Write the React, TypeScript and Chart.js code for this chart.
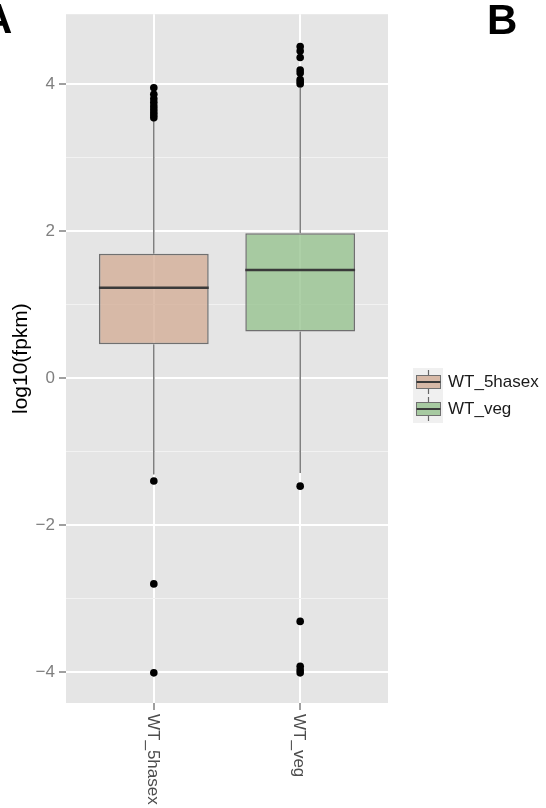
import React, { useEffect, useRef } from 'react';
import { Chart, registerables } from 'chart.js';

Chart.register(...registerables);

// ---- data ----
const categories = ['WT_5hasex', 'WT_veg'];
const lowerWhisker = [-1.31, -1.29];
const q1 = [0.46, 0.635];
const median = [1.23, 1.47];
const q3 = [1.69, 1.97];
const upperWhisker = [3.49, 3.95];
const outliers5hasex = [3.54, 3.58, 3.62, 3.66, 3.7, 3.75, 3.8, 3.86, 3.95, -1.4, -2.8, -4.01];
const outliersVeg = [4.0, 4.03, 4.06, 4.15, 4.19, 4.36, 4.45, 4.51, -1.47, -3.31, -3.92, -3.97, -4.01];
const outliers = [outliers5hasex, outliersVeg];
const yTickValues = [-4, -3, -2, -1, 0, 1, 2, 3, 4];
const yMin = -4.42;
const yMax = 4.95;
const yTitle = 'log10(fpkm)';

// ---- styles ----
const FONT = '"Liberation Sans", Arial, Helvetica, sans-serif';
const fills = ['rgba(209,169,145,0.75)', 'rgba(145,192,138,0.75)'];
const boxBorder = '#707070';
const medianColor = '#3a3a3a';
const whiskerColor = '#666666';
const panelBg = '#E5E5E5';

const decorations = {
  id: 'decorations',
  beforeDraw(chart: any) {
    const { ctx, chartArea } = chart;
    ctx.save();
    ctx.fillStyle = '#ffffff';
    ctx.fillRect(0, 0, chart.width, chart.height);
    ctx.fillStyle = panelBg;
    ctx.fillRect(chartArea.left, chartArea.top, chartArea.right - chartArea.left, chartArea.bottom - chartArea.top);
    ctx.restore();
  },
  afterDraw(chart: any) {
    const { ctx } = chart;
    const x = chart.scales.x;
    ctx.save();
    // rotated x labels (clockwise)
    ctx.fillStyle = '#4d4d4d';
    ctx.font = `17px ${FONT}`;
    ctx.textAlign = 'left';
    ctx.textBaseline = 'middle';
    categories.forEach((c, i) => {
      const px = x.getPixelForValue(i + 1);
      ctx.save();
      ctx.translate(px - 1, x.top + 11);
      ctx.rotate(Math.PI / 2);
      ctx.fillText(c, 0, 0);
      ctx.restore();
    });

    // legend
    const lx = 413;
    const rowY = [382, 409];
    ctx.fillStyle = '#F0F0F0';
    ctx.fillRect(lx, rowY[0] - 14, 30, rowY[1] - rowY[0] + 28);
    categories.forEach((c, i) => {
      const yc = rowY[i];
      ctx.strokeStyle = whiskerColor;
      ctx.lineWidth = 1.2;
      ctx.beginPath();
      ctx.moveTo(lx + 15.5, yc - 12);
      ctx.lineTo(lx + 15.5, yc + 12);
      ctx.stroke();
      ctx.fillStyle = panelBg;
      ctx.fillRect(lx + 3, yc - 7, 25, 14);
      ctx.fillStyle = fills[i];
      ctx.fillRect(lx + 3, yc - 7, 25, 14);
      ctx.strokeStyle = boxBorder;
      ctx.lineWidth = 1;
      ctx.strokeRect(lx + 3.5, yc - 6.5, 24, 13);
      ctx.strokeStyle = medianColor;
      ctx.lineWidth = 2;
      ctx.beginPath();
      ctx.moveTo(lx + 3.5, yc);
      ctx.lineTo(lx + 27.5, yc);
      ctx.stroke();
      ctx.fillStyle = '#1a1a1a';
      ctx.font = `17px ${FONT}`;
      ctx.textAlign = 'left';
      ctx.textBaseline = 'middle';
      ctx.fillText(c, 448, yc);
    });

    // panel letters
    ctx.fillStyle = '#000';
    ctx.font = `bold 42px ${FONT}`;
    ctx.textAlign = 'left';
    ctx.textBaseline = 'alphabetic';
    ctx.fillText('A', -18, 33);
    ctx.fillText('B', 487, 34);
    ctx.restore();
  },
};

export default function App() {
  const ref = useRef<HTMLCanvasElement | null>(null);

  useEffect(() => {
    if (!ref.current) return;
    const datasets: any[] = [];
    categories.forEach((c, i) => {
      const xv = i + 1;
      const boxIndex = datasets.length;
      datasets.push({
        type: 'bar',
        label: c,
        data: [{ x: xv, y: [q1[i], q3[i]] }],
        backgroundColor: fills[i],
        borderColor: boxBorder,
        borderWidth: 1.5,
        borderSkipped: false,
        grouped: false,
        categoryPercentage: 0.75,
        barPercentage: 1,
        order: 3,
      });
      datasets.push({
        type: 'line',
        label: c + ' whiskers',
        data: [
          { x: xv, y: lowerWhisker[i] },
          { x: xv, y: q1[i] },
          { x: xv, y: null },
          { x: xv, y: q3[i] },
          { x: xv, y: upperWhisker[i] },
        ],
        borderColor: whiskerColor,
        borderWidth: 1.3,
        pointRadius: 0,
        spanGaps: false,
        fill: false,
        order: 4,
      });
      datasets.push({
        type: 'scatter',
        label: c + ' median',
        data: [{ x: xv, y: median[i] }],
        pointStyle: 'line',
        pointRadius: (ctx: any) => {
          const el = ctx.chart.getDatasetMeta(boxIndex).data[0] as any;
          return el && el.width ? el.width / 2 : 55;
        },
        borderColor: medianColor,
        pointBorderColor: medianColor,
        pointBorderWidth: 2.5,
        order: 2,
      });
      datasets.push({
        type: 'scatter',
        label: c + ' outliers',
        data: outliers[i].map((v) => ({ x: xv, y: v })),
        pointRadius: 3.8,
        backgroundColor: '#000',
        pointBackgroundColor: '#000',
        borderWidth: 0,
        pointBorderWidth: 0,
        order: 1,
      });
    });

    const chart = new Chart(ref.current, {
      type: 'bar',
      data: { datasets },
      options: {
        responsive: false,
        animation: false,
        events: [],
        layout: { autoPadding: false, padding: { left: 0, top: 10, right: 158, bottom: 0 } },
        plugins: {
          legend: { display: false },
          tooltip: { enabled: false },
        },
        scales: {
          x: {
            type: 'linear',
            min: 0.4,
            max: 2.6,
            offset: false,
            afterBuildTicks: (scale: any) => {
              scale.ticks = categories.map((_, i) => ({ value: i + 1 }));
            },
            afterFit: (scale: any) => {
              scale.height = 105;
            },
            ticks: { display: false },
            border: { display: false },
            grid: {
              offset: false,
              color: '#ffffff',
              lineWidth: 2,
              drawTicks: true,
              tickLength: 7,
              tickColor: '#7f7f7f',
              tickWidth: 1.5,
            },
          },
          y: {
            type: 'linear',
            min: yMin,
            max: yMax,
            afterBuildTicks: (scale: any) => {
              scale.ticks = yTickValues.map((v) => ({ value: v }));
            },
            afterFit: (scale: any) => {
              scale.width = 66;
            },
            ticks: {
              color: '#7f7f7f',
              font: { family: FONT, size: 17 },
              padding: 4,
              callback: (v: any) => (Number(v) % 2 === 0 ? String(v).replace('-', '\u2212') : ''),
            },
            border: { display: false },
            grid: {
              color: (ctx: any) => (ctx.tick && Math.abs(ctx.tick.value) % 2 === 1 ? '#F2F2F2' : '#ffffff'),
              lineWidth: (ctx: any) => (ctx.tick && Math.abs(ctx.tick.value) % 2 === 1 ? 1 : 2),
              drawTicks: true,
              tickLength: 7,
              tickColor: (ctx: any) =>
                ctx.tick && Math.abs(ctx.tick.value) % 2 === 1 ? 'rgba(0,0,0,0)' : '#7f7f7f',
              tickWidth: 1.5,
            },
            title: {
              display: true,
              text: yTitle,
              color: '#000',
              font: { family: FONT, size: 21 },
              padding: { top: 9, bottom: 0 },
            },
          },
        },
      } as any,
      plugins: [decorations],
    });
    return () => chart.destroy();
  }, []);

  return (
    <div style={{ position: 'absolute', left: 0, top: 0, width: 546, height: 808, background: '#fff' }}>
      <canvas ref={ref} width={546} height={808} style={{ display: 'block', width: 546, height: 808 }} />
    </div>
  );
}
